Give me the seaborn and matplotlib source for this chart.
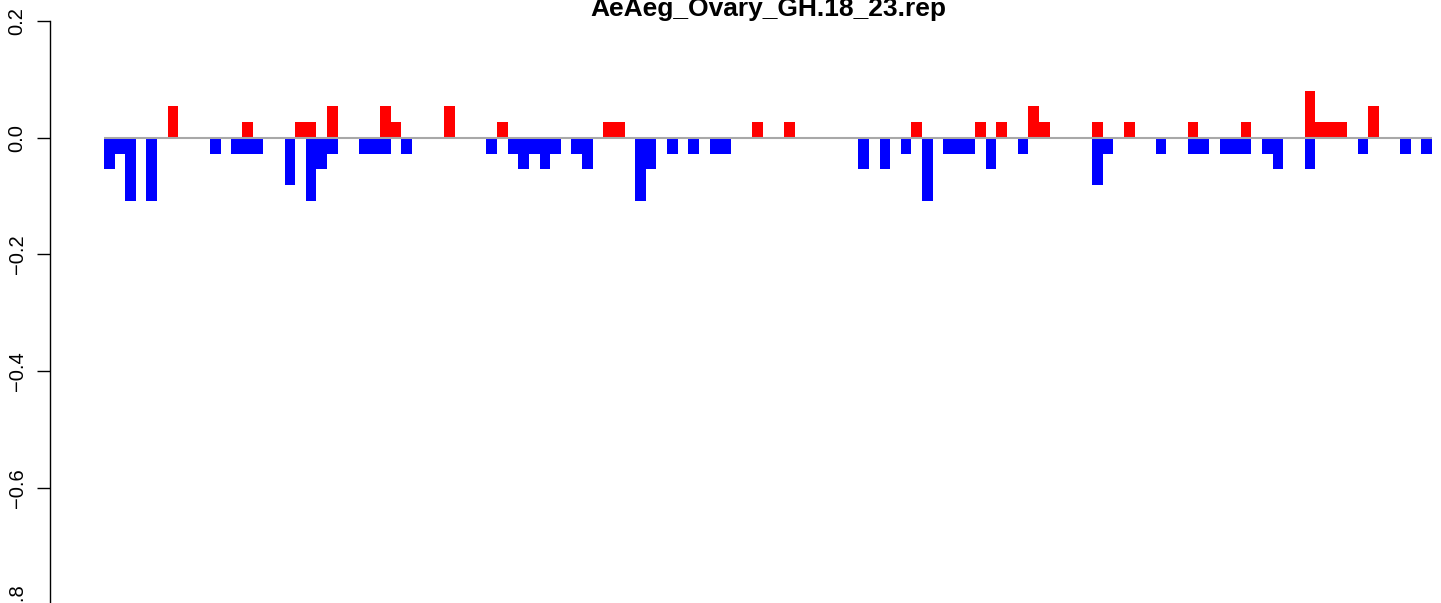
import matplotlib
matplotlib.use("Agg")
import matplotlib.pyplot as plt
import seaborn as sns
import numpy as np
import pandas as pd

title = "AeAeg_Ovary_GH.18_23.rep"

# up (red) values per bin, 125 bins
up_values = [
    0, 0, 0, 0, 0, 0, .054, 0, 0, 0,
    0, 0, 0, .027, 0, 0, 0, 0, .027, .027,
    0, .054, 0, 0, 0, 0, .054, .027, 0, 0,
    0, 0, .054, 0, 0, 0, 0, .027, 0, 0,
    0, 0, 0, 0, 0, 0, 0, .027, .027, 0,
    0, 0, 0, 0, 0, 0, 0, 0, 0, 0,
    0, .027, 0, 0, .027, 0, 0, 0, 0, 0,
    0, 0, 0, 0, 0, 0, .027, 0, 0, 0,
    0, 0, .027, 0, .027, 0, 0, .054, .027, 0,
    0, 0, 0, .027, 0, 0, .027, 0, 0, 0,
    0, 0, .027, 0, 0, 0, 0, .027, 0, 0,
    0, 0, 0, .081, .027, .027, .027, 0, 0, .054,
    0, 0, 0, 0, 0,
]

# down (blue) values per bin
down_values = [
    -.054, -.027, -.108, 0, -.108, 0, 0, 0, 0, 0,
    -.027, 0, -.027, -.027, -.027, 0, 0, -.081, 0, -.108,
    -.054, -.027, 0, 0, -.027, -.027, -.027, 0, -.027, 0,
    0, 0, 0, 0, 0, 0, -.027, 0, -.027, -.054,
    -.027, -.054, -.027, 0, -.027, -.054, 0, 0, 0, 0,
    -.108, -.054, 0, -.027, 0, -.027, 0, -.027, -.027, 0,
    0, 0, 0, 0, 0, 0, 0, 0, 0, 0,
    0, -.054, 0, -.054, 0, -.027, 0, -.108, 0, -.027,
    -.027, -.027, 0, -.054, 0, 0, -.027, 0, 0, 0,
    0, 0, 0, -.081, -.027, 0, 0, 0, 0, -.027,
    0, 0, -.027, -.027, 0, -.027, -.027, -.027, 0, -.027,
    -.054, 0, 0, -.054, 0, 0, 0, 0, -.027, 0,
    0, 0, -.027, 0, -.027,
]

y_ticks = [0.2, 0.0, -0.2, -0.4, -0.6, -0.8]
y_tick_labels = ["0.2", "0.0", "\u22120.2", "\u22120.4", "\u22120.6", "\u22120.8"]

bins = list(range(len(up_values)))
df_up = pd.DataFrame({"bin": bins, "value": up_values})
df_down = pd.DataFrame({"bin": bins, "value": down_values})

sns.set_style("white")
plt.rcParams["font.family"] = ["Liberation Sans", "DejaVu Sans"]
plt.rcParams["text.color"] = "black"
plt.rcParams["ytick.color"] = "black"
plt.rcParams["ytick.labelcolor"] = "black"

W, H = 1441, 603
fig = plt.figure(figsize=(W / 100, H / 100), dpi=100)
ax = fig.add_axes([104 / W, (H - 604.3) / H, 1328 / W, 583 / H])

sns.barplot(data=df_up, x="bin", y="value", color="#FF0000", saturation=1,
            width=1, linewidth=0, errorbar=None, ax=ax)
sns.barplot(data=df_down, x="bin", y="value", color="#0000FF", saturation=1,
            width=1, linewidth=0, errorbar=None, ax=ax)

ax.axhline(0, color="#A8A8A8", lw=1.5, zorder=5)

ax.set_xlim(-0.5, len(bins) - 0.5)
ax.set_ylim(-0.8, 0.2)
ax.set_xticks([])
ax.set_xlabel("")
ax.set_ylabel("")
for s in ["top", "right", "bottom"]:
    ax.spines[s].set_visible(False)
# 54 px outward (points = px * 0.72 at 100 dpi)
ax.spines["left"].set_position(("outward", 54 * 0.72))
ax.spines["left"].set_color("black")
ax.spines["left"].set_linewidth(1.0)
ax.spines["left"].set_bounds(-0.8, 0.2)
ax.set_yticks(y_ticks)
ax.set_yticklabels(y_tick_labels, rotation=90, va="center", fontsize=14.5,
                   color="black")
ax.tick_params(axis="y", length=9.4, width=1.0, color="black", pad=7.5, left=True)

fig.text(768 / W, 1 - 16 / H, title, ha="center", va="baseline",
         fontsize=19, fontweight="bold", color="black")

fig.savefig("out.png", dpi=100)
